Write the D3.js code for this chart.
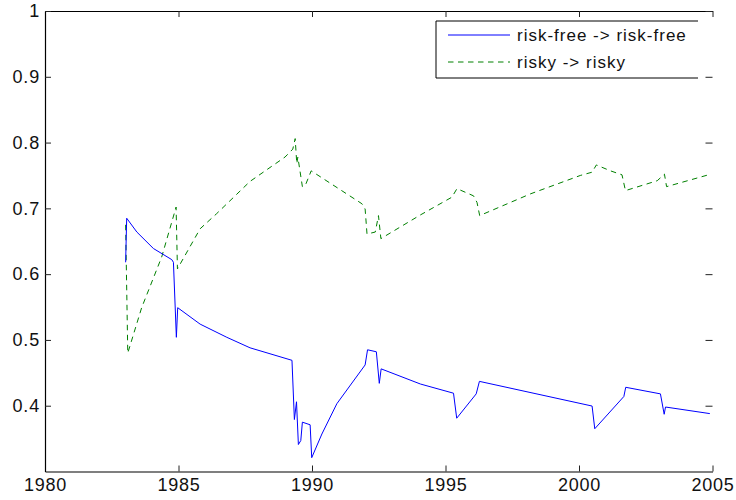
<!DOCTYPE html>
<html>
<head>
<meta charset="utf-8">
<script src="https://cdn.jsdelivr.net/npm/d3@7"></script>
<style>
  body { margin: 0; background: #fff; }
  text { font-family: "Liberation Sans", Arial, sans-serif; fill: #111; }
</style>
</head>
<body>
<svg width="736" height="500"></svg>
<script>
// risk-free -> risk-free (blue, solid)
const freeYears = [1983.02, 1983.06, 1983.44, 1984.06, 1984.75, 1984.81, 1984.92, 1984.97, 1985.81, 1986.81, 1987.68,
  1989.25, 1989.34, 1989.42, 1989.49, 1989.58, 1989.64, 1989.93, 1989.99, 1990.37, 1990.93, 1991.99,
  1992.08, 1992.41, 1992.52, 1992.59, 1994.06, 1995.30, 1995.42, 1996.15, 1996.27, 2000.49, 2000.59,
  2001.68, 2001.75, 2003.05, 2003.19, 2003.24, 2004.90];
const freeValues = [0.618, 0.685, 0.664, 0.639, 0.622, 0.618, 0.504, 0.549, 0.524, 0.504, 0.488,
  0.469, 0.379, 0.406, 0.341, 0.347, 0.375, 0.371, 0.321, 0.357, 0.403, 0.462,
  0.485, 0.482, 0.434, 0.456, 0.433, 0.419, 0.381, 0.418, 0.437, 0.3995, 0.365,
  0.414, 0.428, 0.418, 0.387, 0.398, 0.388];

// risky -> risky (green, dashed)
const riskyYears = [1983.02, 1983.10, 1983.62, 1984.37, 1984.91, 1984.96, 1985.81, 1986.43, 1987.68, 1988.99,
  1989.28, 1989.37, 1989.43, 1989.47, 1989.64, 1989.75, 1989.97, 1991.87, 1991.99, 1992.06, 1992.37,
  1992.49, 1992.58, 1994.06, 1995.24, 1995.43, 1996.05, 1996.18, 1996.28, 1998.18, 2000.05, 2000.49,
  2000.65, 2001.18, 2001.61, 2001.74, 2002.93, 2003.20, 2003.28, 2004.85];
const riskyValues = [0.675, 0.480, 0.549, 0.626, 0.702, 0.608, 0.669, 0.692, 0.741, 0.778,
  0.790, 0.806, 0.768, 0.778, 0.733, 0.735, 0.757, 0.707, 0.699, 0.661, 0.664,
  0.689, 0.654, 0.690, 0.717, 0.730, 0.719, 0.709, 0.689, 0.722, 0.750, 0.755,
  0.766, 0.757, 0.751, 0.727, 0.742, 0.752, 0.733, 0.751];

const xTicks = [1980, 1985, 1990, 1995, 2000, 2005];
const yTicks = [0.4, 0.5, 0.6, 0.7, 0.8, 0.9, 1];
const legendLabels = ["risk-free -> risk-free", "risky -> risky"];

const svg = d3.select("svg");
const x = d3.scaleLinear().domain([1980, 2005]).range([45, 712.5]);
const y = d3.scaleLinear().domain([0.3, 1]).range([471.5, 11]);

const line = d3.line().x(d => x(d[0])).y(d => y(d[1]));
const freeData = freeYears.map((t, i) => [t, freeValues[i]]);
const riskyData = riskyYears.map((t, i) => [t, riskyValues[i]]);

svg.append("path").datum(riskyData)
  .attr("fill", "none").attr("stroke", "#008000").attr("stroke-width", 1)
  .attr("stroke-dasharray", "5.5,4.5").attr("d", line);
svg.append("path").datum(freeData)
  .attr("fill", "none").attr("stroke", "#0000ff").attr("stroke-width", 1)
  .attr("d", line);

// axes, matlab style: ticks pointing inwards
const axBottom = svg.append("g").attr("transform", `translate(0,${y(0.3)})`)
  .call(d3.axisBottom(x).tickValues(xTicks).tickFormat(d3.format("d")).tickSizeInner(-6).tickSizeOuter(0).tickPadding(7));
const axTop = svg.append("g").attr("transform", `translate(0,${y(1)})`)
  .call(d3.axisTop(x).tickValues(xTicks).tickFormat("").tickSizeInner(-6).tickSizeOuter(0));
const axLeft = svg.append("g").attr("transform", `translate(${x(1980)},0)`)
  .call(d3.axisLeft(y).tickValues(yTicks).tickFormat(d3.format("")).tickSizeInner(-6).tickSizeOuter(0).tickPadding(5));
const axRight = svg.append("g").attr("transform", `translate(${x(2005)},0)`)
  .call(d3.axisRight(y).tickValues(yTicks).tickFormat("").tickSizeInner(-7).tickSizeOuter(0));
axRight.select(".domain").remove();

[axBottom, axTop, axLeft, axRight].forEach(g => {
  g.selectAll(".domain").attr("stroke", "#000").attr("stroke-width", 1.2);
  g.selectAll(".tick line").attr("stroke", "#222");
  g.selectAll(".tick text").attr("font-size", 18).attr("fill", "#111")
    .style("font-family", "'Liberation Sans', Arial, sans-serif").style("letter-spacing", "0.8px");
});

// legend
const lg = svg.append("g");
lg.append("rect").attr("x", 436).attr("y", 21).attr("width", 262).attr("height", 57).attr("fill", "#fff");
lg.append("path").attr("d", "M698,21H436V78H698").attr("fill", "none").attr("stroke", "#000").attr("stroke-width", 1);
const styles = [{ c: "#0000ff", dash: null }, { c: "#008000", dash: "5.5,4.5" }];
legendLabels.forEach((lab, i) => {
  const yy = 35 + i * 27;
  lg.append("line").attr("x1", 448).attr("x2", 510).attr("y1", yy).attr("y2", yy)
    .attr("stroke", styles[i].c).attr("stroke-width", 1)
    .attr("stroke-dasharray", styles[i].dash);
  lg.append("text").attr("x", 517).attr("y", yy + 6).attr("font-size", 17)
    .style("letter-spacing", "1px").text(lab);
});
</script>
</body>
</html>
